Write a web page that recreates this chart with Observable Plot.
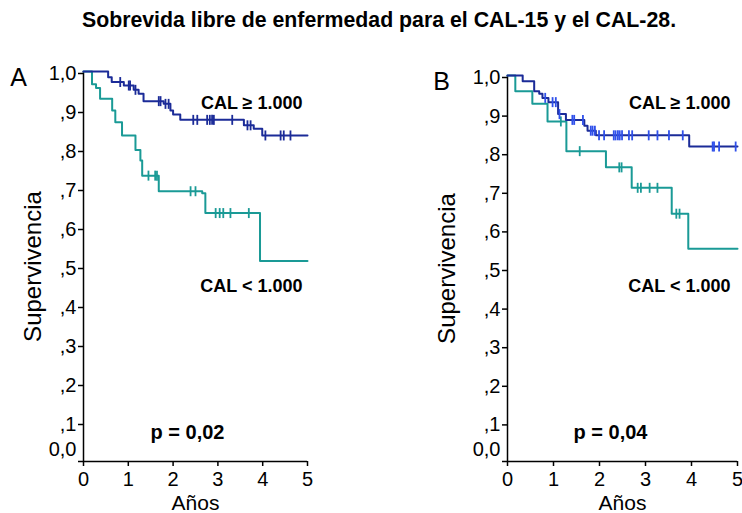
<!DOCTYPE html>
<html><head><meta charset="utf-8">
<script src="https://cdn.jsdelivr.net/npm/d3@7"></script>
<script src="https://cdn.jsdelivr.net/npm/@observablehq/plot@0.6"></script>
<style>
body{margin:0;background:#fff;}
#wrap{position:relative;width:742px;height:513px;font-family:"Liberation Sans",Arial,sans-serif;color:#000;}
#title{position:absolute;left:0;width:758px;top:8px;text-align:center;font-weight:bold;font-size:21.3px;}
.panel{position:absolute;top:40px;}
</style></head><body>
<div id="wrap">
<div id="title">Sobrevida libre de enfermedad para el CAL-15 y el CAL-28.</div>
<div id="pa" class="panel" style="left:0px"></div>
<div id="pb" class="panel" style="left:420px"></div>
</div>
<script>
// ---- Panel A (CAL-15) ----
const aHiTime = [0, 0.55, 0.63, 0.90, 1.12, 1.23, 1.34, 1.79, 1.94, 2.00, 2.16, 3.58, 3.80, 3.99, 5.0];
const aHiSurv = [1.0, 0.985, 0.973, 0.964, 0.953, 0.943, 0.924, 0.917, 0.900, 0.890, 0.876, 0.862, 0.853, 0.836, 0.836];
const aHiCens = [0.82, 1.01, 1.04, 1.16, 1.68, 1.72, 1.83, 1.90, 2.45, 2.54, 2.76, 2.82, 2.87, 2.91, 3.32, 3.66, 3.73, 4.06, 4.40, 4.47, 4.62];
const aLoTime = [0, 0.19, 0.28, 0.37, 0.64, 0.71, 0.86, 1.16, 1.27, 1.31, 1.68, 2.65, 2.72, 3.94, 5.0];
const aLoSurv = [1.0, 0.967, 0.958, 0.930, 0.900, 0.870, 0.836, 0.799, 0.772, 0.733, 0.693, 0.688, 0.637, 0.514, 0.514];
const aLoCens = [1.45, 1.60, 1.64, 2.39, 2.50, 2.95, 3.04, 3.12, 3.28, 3.69];
// ---- Panel B (CAL-28) ----
const bHiTime = [0, 0.33, 0.58, 0.69, 0.76, 0.89, 1.10, 1.27, 1.67, 1.74, 1.92, 3.95, 5.0];
const bHiSurv = [1.0, 0.985, 0.959, 0.953, 0.942, 0.931, 0.900, 0.885, 0.870, 0.857, 0.845, 0.816, 0.816];
const bHiCens = [0.82, 0.98, 1.05, 1.13, 1.41, 1.45, 1.64, 1.81, 1.85, 1.90, 1.99, 2.10, 2.31, 2.35, 2.40, 2.44, 2.49, 2.64, 2.71, 3.07, 3.26, 3.51, 3.81, 4.46, 4.49, 4.60, 4.96];
const bLoTime = [0, 0.17, 0.54, 0.87, 1.28, 2.14, 2.70, 3.57, 3.93, 5.0];
const bLoSurv = [1.0, 0.959, 0.927, 0.881, 0.804, 0.762, 0.709, 0.642, 0.551, 0.551];
const bLoCens = [1.16, 1.57, 2.43, 2.48, 2.83, 2.90, 3.09, 3.26, 3.67, 3.74];

const xTicks = [0, 1, 2, 3, 4, 5];
const yTicks = [0.1, 0.2, 0.3, 0.4, 0.5, 0.6, 0.7, 0.8, 0.9, 1.0];
const yTickLabels = [",1", ",2", ",3", ",4", ",5", ",6", ",7", ",8", ",9", "1,0"];
const yZeroLabel = "0,0";
const xLabel = "Años";
const yLabel = "Supervivencia";
const groupHi = "CAL \u2265 1.000";
const groupLo = "CAL < 1.000";
const panelLetters = ["A", "B"];
const pValues = ["p = 0,02", "p = 0,04"];

const NAVY = "#1b2b98", TEAL = "#1a9a96", BRIGHT = "#2f50ea";

function curve(times, survs) { return times.map((t, i) => ({t, s: survs[i]})); }
function cens(times, steps) {
  return times.map(t => { let s = steps[0].s; for (const p of steps) if (p.t <= t) s = p.s; return {t, s}; });
}
const vtick = {draw(ctx, size) { const r = Math.sqrt(size / Math.PI); ctx.moveTo(0, -r); ctx.lineTo(0, r); }};

function panel(o) {
  const hi = curve(o.hiT, o.hiS), lo = curve(o.loT, o.loS);
  return Plot.plot({
    width: o.width, height: 473,
    marginLeft: o.ml, marginRight: o.mr, marginTop: o.mt, marginBottom: 52,
    style: {fontFamily: "'Liberation Sans', Arial, sans-serif", background: "#fff", overflow: "visible"},
    x: {domain: [0, 5]},
    y: {domain: [0, 1]},
    marks: [
      Plot.axisY(yTicks, {tickSize: 5, tickPadding: 2, strokeWidth: 1.5, fontSize: 20, dy: 2, tickFormat: (d) => yTickLabels[yTicks.indexOf(d)], label: null}),
      Plot.axisY([0], {tickSize: 5, strokeWidth: 1.5, tickFormat: () => "", label: null}),
      Plot.text([yZeroLabel], {text: d => d, frameAnchor: "bottom-left", dx: -7, dy: -6, textAnchor: "end", fontSize: 20}),
      Plot.axisX(xTicks, {tickSize: 5, tickPadding: 5, strokeWidth: 1.5, fontSize: 20, label: null}),
      Plot.ruleY([0], {stroke: "#000", strokeWidth: 1.5}),
      Plot.ruleX([0], {stroke: "#000", strokeWidth: 1.5}),
      Plot.line(lo, {x: "t", y: "s", curve: "step-after", stroke: TEAL, strokeWidth: 2}),
      Plot.dot(cens(o.loC, lo), {x: "t", y: "s", symbol: vtick, r: 5, stroke: TEAL, strokeWidth: 1.8, fill: "none"}),
      Plot.line(hi, {x: "t", y: "s", curve: "step-after", stroke: NAVY, strokeWidth: 2}),
      Plot.dot(cens(o.hiC, hi), {x: "t", y: "s", symbol: vtick, r: 5, stroke: o.hiCensColor, strokeWidth: 1.8, fill: "none"}),
      Plot.text([yLabel], {text: d => d, frameAnchor: "left", dx: o.ylabDx, rotate: -90, textAnchor: "middle", fontSize: 24}),
      Plot.text([xLabel], {text: d => d, frameAnchor: "bottom", dy: 48, textAnchor: "middle", fontSize: 21}),
      Plot.text([o.letter], {text: d => d, frameAnchor: "top-left", dx: o.letterDx, dy: -3, textAnchor: "middle", fontSize: 25}),
      Plot.text([groupHi], {text: d => d, frameAnchor: "top-right", dx: o.grpDx, dy: o.hiDy, textAnchor: "end", fontSize: 18, fontWeight: "bold"}),
      Plot.text([groupLo], {text: d => d, frameAnchor: "top-right", dx: o.grpDx, dy: o.loDy, textAnchor: "end", fontSize: 18, fontWeight: "bold"}),
      Plot.text([o.p], {text: d => d, frameAnchor: "bottom", dx: o.pDx, dy: -23, textAnchor: "middle", fontSize: 20, fontWeight: "bold"})
    ]
  });
}

document.getElementById("pa").append(panel({
  hiT: aHiTime, hiS: aHiSurv, hiC: aHiCens, loT: aLoTime, loS: aLoSurv, loC: aLoCens,
  width: 340, ml: 83, mr: 33, mt: 31, ylabDx: -50, letterDx: -65, grpDx: -5, hiDy: 25, loDy: 208, pDx: -8,
  letter: panelLetters[0], p: pValues[0], hiCensColor: NAVY
}));
document.getElementById("pb").append(panel({
  hiT: bHiTime, hiS: bHiSurv, hiC: bHiCens, loT: bLoTime, loS: bLoSurv, loC: bLoCens,
  width: 322, ml: 87, mr: 5, mt: 35, ylabDx: -60, letterDx: -66, grpDx: -7, hiDy: 21, loDy: 204, pDx: -12,
  letter: panelLetters[1], p: pValues[1], hiCensColor: BRIGHT
}));
</script>
</body></html>
